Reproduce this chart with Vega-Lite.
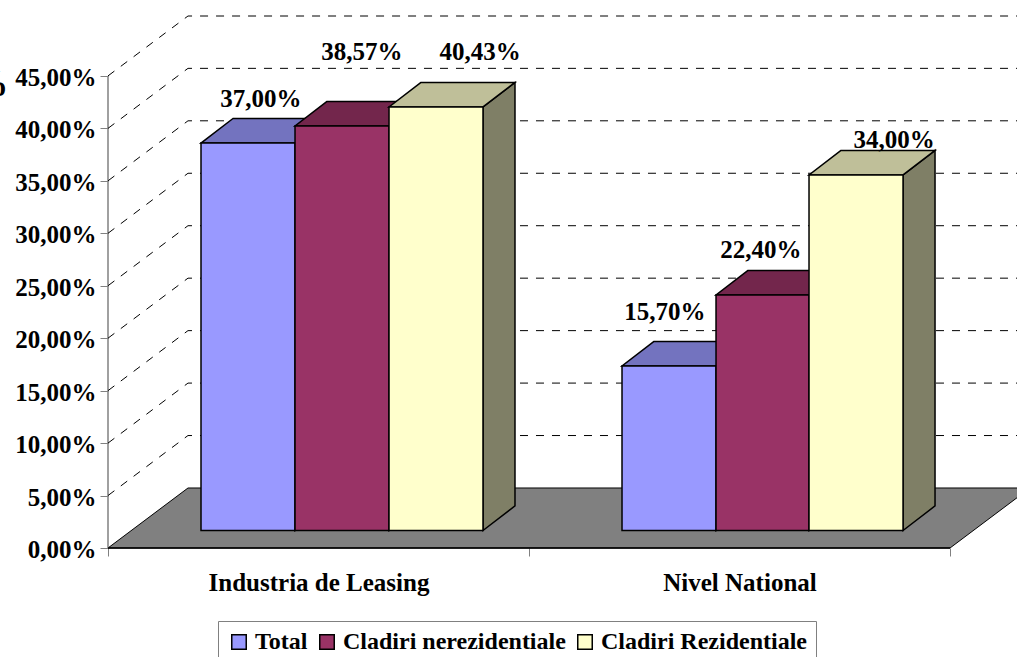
{
"$schema":"https://vega.github.io/schema/vega-lite/v6.json",
"width":909,"height":532,
"autosize":"none",
"padding":{"left":108,"top":16,"right":0,"bottom":109},
"background":"white",
"config":{"view":{"stroke":null},"text":{"font":"Liberation Serif"}},
"datasets":{
"floor":[{"y":0,"x":0,"x2":2},{"y":5.72,"x":0.19,"x2":2.19}],
"axisline":[{"x":0,"y":0,"y2":45},{"x":0,"x2":2,"y":0}],
"grid":[
{"t":5,"x":0,"y":5},{"t":5,"x":0.19,"y":10.72},{"t":5,"x":2.16,"y":10.72},
{"t":10,"x":0,"y":10},{"t":10,"x":0.19,"y":15.72},{"t":10,"x":2.16,"y":15.72},
{"t":15,"x":0,"y":15},{"t":15,"x":0.19,"y":20.72},{"t":15,"x":2.16,"y":20.72},
{"t":20,"x":0,"y":20},{"t":20,"x":0.19,"y":25.72},{"t":20,"x":2.16,"y":25.72},
{"t":25,"x":0,"y":25},{"t":25,"x":0.19,"y":30.72},{"t":25,"x":2.16,"y":30.72},
{"t":30,"x":0,"y":30},{"t":30,"x":0.19,"y":35.72},{"t":30,"x":2.16,"y":35.72},
{"t":35,"x":0,"y":35},{"t":35,"x":0.19,"y":40.72},{"t":35,"x":2.16,"y":40.72},
{"t":40,"x":0,"y":40},{"t":40,"x":0.19,"y":45.72},{"t":40,"x":2.16,"y":45.72},
{"t":45,"x":0,"y":45},{"t":45,"x":0.19,"y":50.71},{"t":45,"x":2.16,"y":50.71}],
"front":[
{"category":"Industria de Leasing","series":"Total","value":37.0,"x":0.2209,"x2":0.4442,"y":1.67,"y2":38.6},
{"category":"Industria de Leasing","series":"Cladiri nerezidentiale","value":38.57,"x":0.4442,"x2":0.6675,"y":1.67,"y2":40.23},
{"category":"Industria de Leasing","series":"Cladiri Rezidentiale","value":40.43,"x":0.6675,"x2":0.8907,"y":1.67,"y2":42.04},
{"category":"Nivel National","series":"Total","value":15.7,"x":1.2209,"x2":1.4442,"y":1.67,"y2":17.35},
{"category":"Nivel National","series":"Cladiri nerezidentiale","value":22.4,"x":1.4442,"x2":1.6651,"y":1.67,"y2":24.12},
{"category":"Nivel National","series":"Cladiri Rezidentiale","value":34.0,"x":1.6651,"x2":1.8884,"y":1.67,"y2":35.56}],
"side":[
{"id":"a1","series":"Total","x":0.4442,"y":1.67,"y2":38.6},{"id":"a1","series":"Total","x":0.5202,"y":4.01,"y2":40.94},
{"id":"a2","series":"Cladiri nerezidentiale","x":0.6675,"y":1.67,"y2":40.23},{"id":"a2","series":"Cladiri nerezidentiale","x":0.7435,"y":4.01,"y2":42.57},
{"id":"a3","series":"Cladiri Rezidentiale","x":0.8907,"y":1.67,"y2":42.04},{"id":"a3","series":"Cladiri Rezidentiale","x":0.9667,"y":4.01,"y2":44.38},
{"id":"b1","series":"Total","x":1.4442,"y":1.67,"y2":17.35},{"id":"b1","series":"Total","x":1.5202,"y":4.01,"y2":19.69},
{"id":"b2","series":"Cladiri nerezidentiale","x":1.6651,"y":1.67,"y2":24.12},{"id":"b2","series":"Cladiri nerezidentiale","x":1.7411,"y":4.01,"y2":26.46},
{"id":"b3","series":"Cladiri Rezidentiale","x":1.8884,"y":1.67,"y2":35.56},{"id":"b3","series":"Cladiri Rezidentiale","x":1.9644,"y":4.01,"y2":37.9}],
"top":[
{"id":"a1","series":"Total","y":38.6,"x":0.2209,"x2":0.4442},{"id":"a1","series":"Total","y":40.94,"x":0.2969,"x2":0.5202},
{"id":"a2","series":"Cladiri nerezidentiale","y":40.23,"x":0.4442,"x2":0.6675},{"id":"a2","series":"Cladiri nerezidentiale","y":42.57,"x":0.5202,"x2":0.7435},
{"id":"a3","series":"Cladiri Rezidentiale","y":42.04,"x":0.6675,"x2":0.8907},{"id":"a3","series":"Cladiri Rezidentiale","y":44.38,"x":0.7435,"x2":0.9667},
{"id":"b1","series":"Total","y":17.35,"x":1.2209,"x2":1.4442},{"id":"b1","series":"Total","y":19.69,"x":1.2969,"x2":1.5202},
{"id":"b2","series":"Cladiri nerezidentiale","y":24.12,"x":1.4442,"x2":1.6651},{"id":"b2","series":"Cladiri nerezidentiale","y":26.46,"x":1.5202,"x2":1.7411},
{"id":"b3","series":"Cladiri Rezidentiale","y":35.56,"x":1.6651,"x2":1.8884},{"id":"b3","series":"Cladiri Rezidentiale","y":37.9,"x":1.7411,"x2":1.9644}],
"labels":[
{"label":"37,00%","x":0.363,"y":42.07},
{"label":"38,57%","x":0.603,"y":46.52},
{"label":"40,43%","x":0.884,"y":46.52},
{"label":"15,70%","x":1.323,"y":21.73},
{"label":"22,40%","x":1.551,"y":27.65},
{"label":"34,00%","x":1.867,"y":38.13}]
},
"layer":[
{"data":{"name":"floor"},"mark":{"type":"area","orient":"horizontal","fill":"#808080","stroke":"black","strokeWidth":1,"clip":false},
 "encoding":{
  "y":{"field":"y","type":"quantitative","scale":{"domain":[0,50.71],"nice":false,"zero":false},
   "axis":{"values":[0,5,10,15,20,25,30,35,40,45],"labelExpr":"replace(format(datum.value,'.2f'),'.',',')+'%'","labelFont":"Liberation Serif","labelFontWeight":"bold","labelFontSize":25,"labelColor":"black","labelPadding":4,"labelOffset":1.5,"tickSize":8,"tickColor":"#808080","domain":false,"grid":false,"title":"%","titleAngle":0,"titleX":-100,"titleY":79,"titleAlign":"right","titleBaseline":"alphabetic","titleFont":"Liberation Serif","titleFontSize":38,"titleFontWeight":"bold","titleColor":"black"}},
  "x":{"field":"x","type":"quantitative","scale":{"domain":[0,2.1591],"nice":false,"zero":false},
   "axis":{"values":[0,0.5,1,1.5,2],"labelExpr":"datum.value==0.5?'Industria de Leasing':datum.value==1.5?'Nivel National':''","labelFont":"Liberation Serif","labelFontWeight":"bold","labelFontSize":25,"labelColor":"black","labelPadding":14,"labelFlush":false,"labelOverlap":false,"labelLimit":400,"tickSize":8,"tickColor":"#808080","tickOpacity":{"condition":{"test":"datum.value==0.5||datum.value==1.5","value":0},"value":1},"domain":false,"grid":false,"title":null}},
  "x2":{"field":"x2"}}},
{"data":{"name":"axisline"},"transform":[{"filter":"datum.y2!=null"}],"mark":{"type":"rule","color":"#808080","strokeWidth":1.5},
 "encoding":{"x":{"field":"x","type":"quantitative"},"y":{"field":"y","type":"quantitative"},"y2":{"field":"y2"}}},
{"data":{"name":"axisline"},"transform":[{"filter":"datum.x2!=null"}],"mark":{"type":"rule","color":"black","strokeWidth":1.5},
 "encoding":{"x":{"field":"x","type":"quantitative"},"x2":{"field":"x2"},"y":{"field":"y","type":"quantitative"}}},
{"data":{"name":"grid"},"mark":{"type":"line","color":"black","strokeWidth":1,"strokeDash":[8,8]},
 "encoding":{"x":{"field":"x","type":"quantitative"},"y":{"field":"y","type":"quantitative"},"detail":{"field":"t"},"order":{"field":"x"}}},
{"data":{"name":"side"},"mark":{"type":"area","stroke":"black","strokeWidth":1.5},
 "encoding":{"x":{"field":"x","type":"quantitative"},"y":{"field":"y","type":"quantitative"},"y2":{"field":"y2"},"detail":{"field":"id"},
  "fill":{"field":"series","type":"nominal","legend":null,"scale":{"domain":["Total","Cladiri nerezidentiale","Cladiri Rezidentiale"],"range":["#4C4C7F","#4C1933","#7F7F66"]}}}},
{"data":{"name":"top"},"mark":{"type":"area","orient":"horizontal","stroke":"black","strokeWidth":1.5},
 "encoding":{"y":{"field":"y","type":"quantitative"},"x":{"field":"x","type":"quantitative"},"x2":{"field":"x2"},"detail":{"field":"id"},
  "fill":{"field":"series","type":"nominal","legend":null,"scale":{"domain":["Total","Cladiri nerezidentiale","Cladiri Rezidentiale"],"range":["#7373BF","#73264C","#BFBF99"]}}}},
{"data":{"name":"front"},"mark":{"type":"rect","stroke":"black","strokeWidth":1.5},
 "encoding":{"x":{"field":"x","type":"quantitative"},"x2":{"field":"x2"},"y":{"field":"y","type":"quantitative"},"y2":{"field":"y2"},
  "fill":{"field":"series","type":"nominal","sort":null,"scale":{"domain":["Total","Cladiri nerezidentiale","Cladiri Rezidentiale"],"range":["#9999FF","#993366","#FFFFCC"]},
   "legend":{"title":null,"orient":"none","direction":"horizontal","legendX":110,"legendY":605,"symbolType":"square","symbolSize":210,"symbolStrokeColor":"black","symbolStrokeWidth":1.5,"labelFont":"Liberation Serif","labelFontWeight":"bold","labelFontSize":24,"labelColor":"black","labelLimit":400,"labelOffset":4,"columnPadding":7,"padding":9,"strokeColor":"#808080","fillColor":"white"}}}},
{"data":{"name":"labels"},"mark":{"type":"text","font":"Liberation Serif","fontWeight":"bold","fontSize":25,"color":"black","align":"center","baseline":"alphabetic"},
 "encoding":{"x":{"field":"x","type":"quantitative"},"y":{"field":"y","type":"quantitative"},"text":{"field":"label"}}}
],
"resolve":{"scale":{"fill":"independent"}}
}
